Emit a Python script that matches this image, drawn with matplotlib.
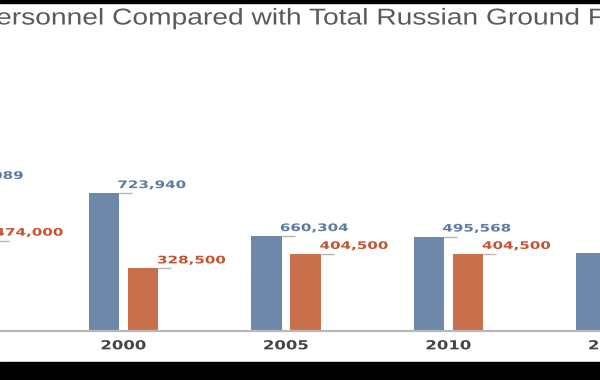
import numpy as np
import matplotlib
matplotlib.use('Agg')
import matplotlib.pyplot as plt
import matplotlib.patheffects as pe
from matplotlib.patches import Rectangle
from matplotlib.transforms import Affine2D

years = ['1995', '2000', '2005', '2010', '2015']
# bar heights as drawn in the reference (2005 blue bar is shorter than its label says)
airborne = [772000, 723940, 498000, 495568, 411000]
airborne_labels = ['772,089', '723,940', '660,304', '495,568', '411,000']
ground = [474000, 328500, 404500, 404500, 404500]
ground_labels = ['474,000', '328,500', '404,500', '404,500', '404,500']

title = 'Russian Airborne Forces Personnel Compared with Total Russian Ground Forces Personnel'

BLUE = '#6e88aa'
ORANGE = '#c8704b'
BLUE_TXT = '#5b7ba3'
ORANGE_TXT = '#c4532f'


class Stretch(pe.AbstractPathEffect):
    # the reference uses a wide, extended font -> widen glyphs horizontally
    def __init__(self, sx, anchor='left'):
        super().__init__()
        self.sx = sx
        self.anchor = anchor

    def draw_path(self, renderer, gc, tpath, affine, rgbFace=None):
        cx = 0
        if self.anchor == 'center':
            ext = tpath.get_extents()
            cx = (ext.x0 + ext.x1) / 2
        t = Affine2D().translate(-cx, 0).scale(self.sx, 1).translate(cx, 0)
        renderer.draw_path(gc, tpath, t + affine, rgbFace)


fig = plt.figure(figsize=(6, 3.8), dpi=100)
# the picture is a crop: axes run past the right edge of the figure
ax = fig.add_axes([0, 49 / 380, 660 / 600, 291 / 380])

x = np.arange(len(years))
w = 0.19
off = 0.12
ax.bar(x - off, airborne, w, color=BLUE, zorder=2)
ax.bar(x + off, ground, w, color=ORANGE, zorder=2)

# leader lines + value labels
ax.hlines(airborne, x - off + w / 2, x - off + w / 2 + 0.08, color='#b5b5b5', lw=1, zorder=1)
ax.hlines(ground, x + off + w / 2, x + off + w / 2 + 0.08, color='#b5b5b5', lw=1, zorder=1)
for xi, v, lab in zip(x, airborne, airborne_labels):
    t = ax.annotate(lab, (xi - off + w / 2, v), xytext=(-1.5, 2.2), textcoords='offset points',
                    ha='left', va='bottom', fontsize=7.5, fontweight='bold',
                    family='DejaVu Sans', color=BLUE_TXT, annotation_clip=False)
    t.set_path_effects([Stretch(1.45)])
for xi, v, lab in zip(x, ground, ground_labels):
    t = ax.annotate(lab, (xi + off + w / 2, v), xytext=(-1, 2.2), textcoords='offset points',
                    ha='left', va='bottom', fontsize=7.5, fontweight='bold',
                    family='DejaVu Sans', color=ORANGE_TXT, annotation_clip=False)
    t.set_path_effects([Stretch(1.45)])

ax.set_xticks(x, years)
ax.set_xlim(1 - 123.5 / 162.5, 1 + (660 - 123.5) / 162.5)
ax.set_ylim(0, 291 * 5250)
ax.set_yticks([])
ax.tick_params(axis='x', length=0, pad=6)
for lbl in ax.get_xticklabels():
    lbl.set_fontsize(9)
    lbl.set_fontweight('bold')
    lbl.set_family('DejaVu Sans')
    lbl.set_color('#444444')
    lbl.set_path_effects([Stretch(1.32, 'center')])

for s in ['left', 'right', 'top']:
    ax.spines[s].set_visible(False)
ax.spines['bottom'].set_color('#b8b8b8')
ax.spines['bottom'].set_linewidth(1.6)
ax.patch.set_alpha(0)

# title is cut on both sides in the reference
title_sx = 1.23
title_kw = dict(fontsize=16.5, family='Liberation Sans', color='#5a5a5a', va='center', ha='left')
pre = fig.text(0, 0, 'Russian Airborne Forces P', **title_kw)
fig.canvas.draw()
pw = pre.get_window_extent().width * title_sx
pre.remove()
tt = fig.text(-(pw + 4) / 600, 1 - 18 / 380, title, **title_kw)
tt.set_path_effects([Stretch(title_sx)])

# black bands of the screenshot
fig.add_artist(Rectangle((0, 0), 1, 18 / 380, transform=fig.transFigure, color='black'))
fig.add_artist(Rectangle((0, 1 - 3 / 380), 1, 3 / 380, transform=fig.transFigure, color='black'))

fig.savefig('out.png', dpi=100)
